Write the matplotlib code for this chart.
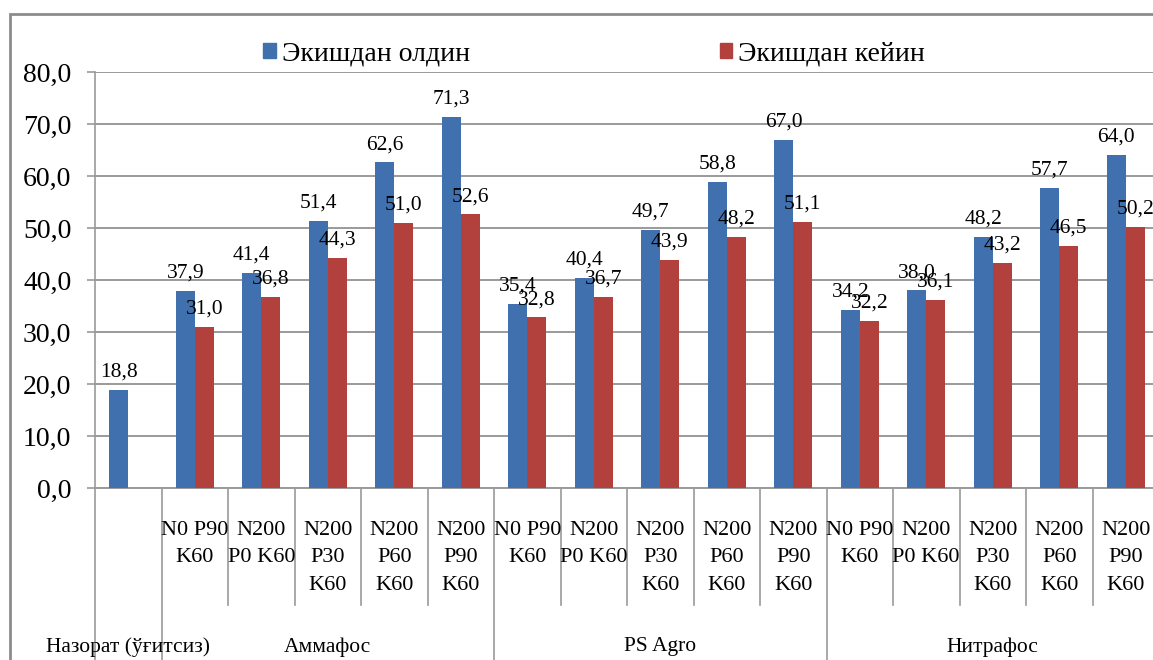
import matplotlib
matplotlib.use("Agg")
import matplotlib.pyplot as plt
from matplotlib.patches import Patch, Rectangle
from matplotlib.lines import Line2D
import numpy as np

plt.rcParams['font.family'] = ['Liberation Serif', 'DejaVu Serif']

# data
series_names = ["Экишдан олдин", "Экишдан кейин"]
sub_labels = ["",
              "N0 P90\nK60", "N200\nP0 K60", "N200\nP30\nK60", "N200\nP60\nK60", "N200\nP90\nK60",
              "N0 P90\nK60", "N200\nP0 K60", "N200\nP30\nK60", "N200\nP60\nK60", "N200\nP90\nK60",
              "N0 P90\nK60", "N200\nP0 K60", "N200\nP30\nK60", "N200\nP60\nK60", "N200\nP90\nK60"]
groups = ["Назорат (ўғитсиз)", "Аммафос", "PS Agro", "Нитрафос"]
group_sizes = [1, 5, 5, 5]
before = [18.8, 37.9, 41.4, 51.4, 62.6, 71.3, 35.4, 40.4, 49.7, 58.8, 67.0,
          34.2, 38.0, 48.2, 57.7, 64.0]
after = [np.nan, 31.0, 36.8, 44.3, 51.0, 52.6, 32.8, 36.7, 43.9, 48.2, 51.1,
         32.2, 36.1, 43.2, 46.5, 50.2]
yticks = [0, 10, 20, 30, 40, 50, 60, 70, 80]

blue = "#4170AE"
red = "#B2403D"
grid_c = "#9A9A9A"

W, H = 1153, 660
fig = plt.figure(figsize=(W / 100, H / 100), dpi=100)
ax = fig.add_axes([95 / W, 1 - 488 / H, 1064 / W, 416 / H])

x = np.arange(len(before))
w = 0.285
ax.bar(x - w, before, width=w, align='edge', color=blue, zorder=3)
ax.bar(x, after, width=w, align='edge', color=red, zorder=3)

def fmt(v):
    return f"{v:.1f}".replace('.', ',')

for xi, b, a in zip(x, before, after):
    ax.annotate(fmt(b), (xi - w / 2, b), xytext=(0, 6), textcoords='offset points',
                ha='center', va='bottom', fontsize=15.5, zorder=5)
    if not np.isnan(a):
        ax.annotate(fmt(a), (xi + w / 2, a), xytext=(0, 6), textcoords='offset points',
                    ha='center', va='bottom', fontsize=15.5, zorder=5)

ax.set_xlim(-0.5, len(before) - 0.5)
ax.set_ylim(0, 80)
ax.set_yticks(yticks)
ax.set_yticklabels([fmt(v) for v in yticks], fontsize=20)
ax.tick_params(axis='y', length=6, width=1.2, color=grid_c, pad=11)
ax.set_xticks([])
ax.yaxis.grid(True, color=grid_c, linewidth=1.4, zorder=0)
ax.set_axisbelow(True)
for s in ['top', 'right']:
    ax.spines[s].set_visible(False)
ax.spines['left'].set_color(grid_c)
ax.spines['bottom'].set_color(grid_c)
ax.spines['left'].set_linewidth(1.2)
ax.spines['bottom'].set_linewidth(1.4)

# multi-level category axis
tr = ax.get_xaxis_transform()
group_edges = set(np.cumsum([0] + group_sizes) - 0.5)
for b in np.arange(len(before) + 1) - 0.5:
    y_end = -0.45 if b in group_edges else -0.282
    ax.add_line(Line2D([b, b], [0, y_end], transform=tr, color=grid_c,
                       linewidth=1.2, clip_on=False))
for xi, lab in zip(x, sub_labels):
    if lab:
        ax.text(xi, -0.079, lab, transform=tr, ha='center', va='top',
                fontsize=16, linespacing=1.6)
start = 0
for g, n in zip(groups, group_sizes):
    ax.text(start + (n - 1) / 2, -0.382, g, transform=tr, ha='center',
            va='center', fontsize=15.5)
    start += n

# legend
handles = [Patch(color=blue, label=series_names[0]), Patch(color=red, label=series_names[1])]
fig.legend(handles=handles, ncol=2, loc='center', bbox_to_anchor=(594 / W, 1 - 54 / H),
           frameon=False, fontsize=20, handlelength=0.45, handleheight=0.45,
           handletextpad=0.2, columnspacing=9.0)

# outer chart border (partly cut off on the right and bottom)
fig.add_artist(Rectangle((10 / W, -0.1), 1.2, 1.1 - 14 / H, transform=fig.transFigure,
                         fill=False, edgecolor="#8C8C8C", linewidth=2, clip_on=False))

fig.savefig("out.png", dpi=100)
